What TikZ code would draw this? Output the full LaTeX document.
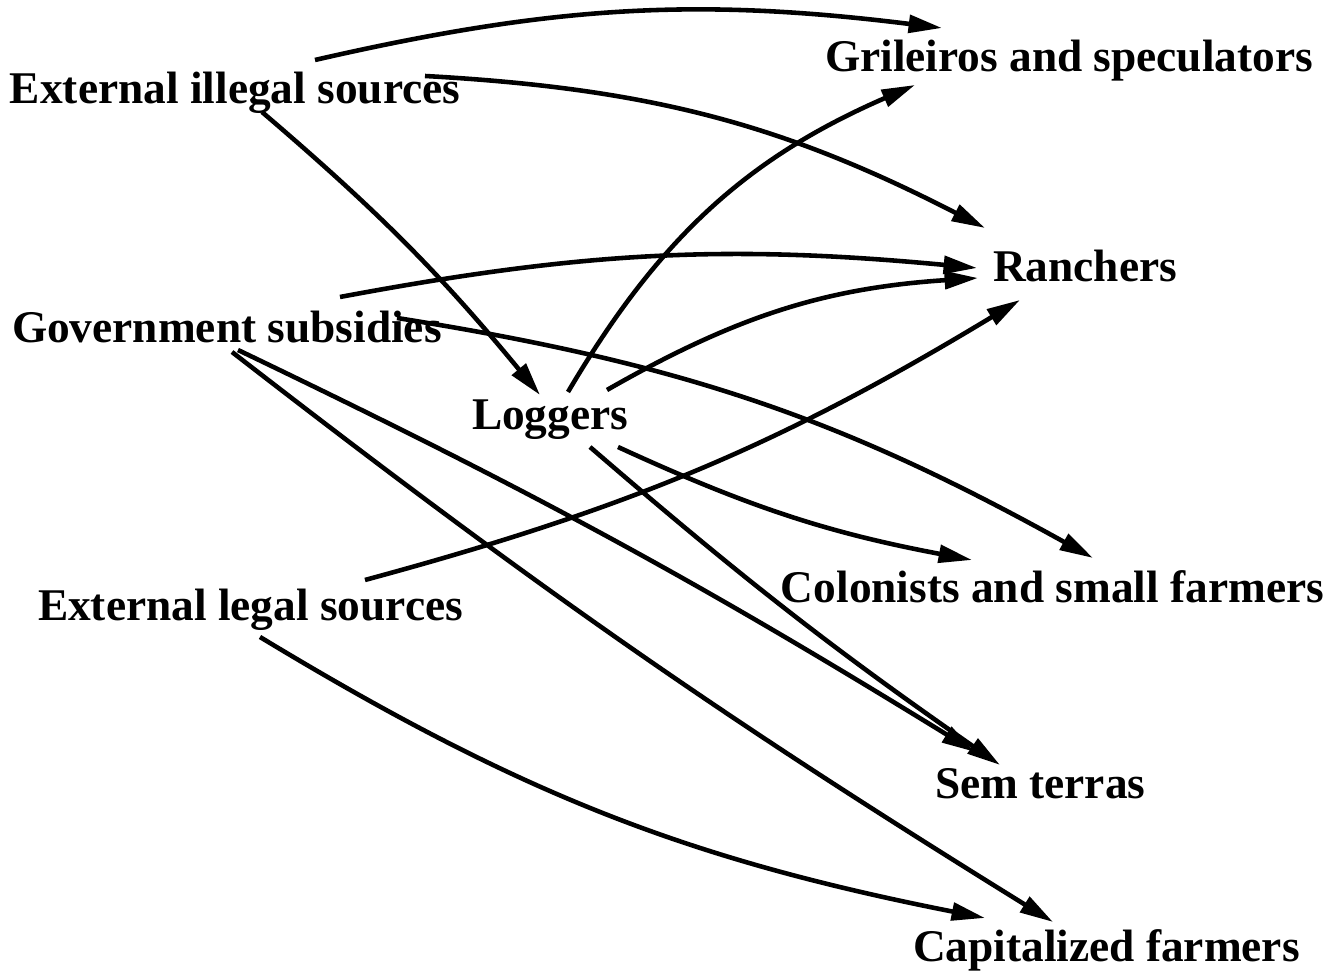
\documentclass[tikz,border=0pt]{standalone}
\usepackage{fontspec}
\setmainfont{Liberation Serif}
\usetikzlibrary{arrows.meta}
\begin{document}
\begin{tikzpicture}[x=0.01cm,y=0.01cm,
  lbl/.style={anchor=base west,inner sep=0pt,outer sep=0pt,font=\fontsize{12.9}{15}\selectfont\bfseries},
  link/.style={line width=1.3pt,-{Triangle[length=9.5pt,width=5pt]}}]
\useasboundingbox (0,0) rectangle (1341,976);
\fill[white] (0,0) rectangle (1341,976);
% labels
\node[lbl] (eis) at (10,872) {External illegal sources};
\node[lbl] (gri) at (825,904) {Grileiros and speculators};
\node[lbl] (ran) at (993,694) {Ranchers};
\node[lbl] (gov) at (12,633) {Government subsidies};
\node[lbl] (log) at (472,546) {Loggers};
\node[lbl] (col) at (781,373) {Colonists and small farmers};
\node[lbl] (els) at (38,355) {External legal sources};
\node[lbl] (sem) at (935,177) {Sem terras};
\node[lbl] (cap) at (913,14) {Capitalized farmers};
% tails
\coordinate (eisA) at (315,916);
\coordinate (eisB) at (425,900);
\coordinate (eisC) at (262,864);
\coordinate (govA) at (340,679);
\coordinate (govB) at (397,658);
\coordinate (govC) at (238,626);
\coordinate (govD) at (232,624);
\coordinate (logA) at (568,584);
\coordinate (logB) at (607,586);
\coordinate (logC) at (618,529);
\coordinate (logD) at (590,529);
\coordinate (elsA) at (365,396);
\coordinate (elsB) at (260,339);
% heads
\coordinate (griA) at (942,948);
\coordinate (griB) at (915,891);
\coordinate (ranA) at (985,748);
\coordinate (ranB) at (977,708);
\coordinate (ranC) at (978,698);
\coordinate (ranD) at (1020,676);
\coordinate (logH) at (540,581);
\coordinate (colA) at (1093,418);
\coordinate (colB) at (972,416);
\coordinate (semA) at (975,224);
\coordinate (semB) at (1000,211);
\coordinate (capA) at (1053,54);
\coordinate (capB) at (985,58);
% connectors
\draw[link] (eisA) to[bend left=10] (griA);
\draw[link] (eisB) to[bend left=12] (ranA);
\draw[link] (eisC) to[bend left=5] (logH);
\draw[link] (govA) to[bend left=8] (ranB);
\draw[link] (govB) to[bend left=10] (colA);
\draw[link] (govC) to[bend left=3] (semA);
\draw[link] (govD) to[bend right=3] (capA);
\draw[link] (logA) to[bend left=18] (griB);
\draw[link] (logB) to[bend left=13] (ranC);
\draw[link] (logC) to[bend right=7] (colB);
\draw[link] (logD) to[bend right=3] (semB);
\draw[link] (elsA) to[bend right=8] (ranD);
\draw[link] (elsB) to[bend right=10] (capB);
\end{tikzpicture}
\end{document}
